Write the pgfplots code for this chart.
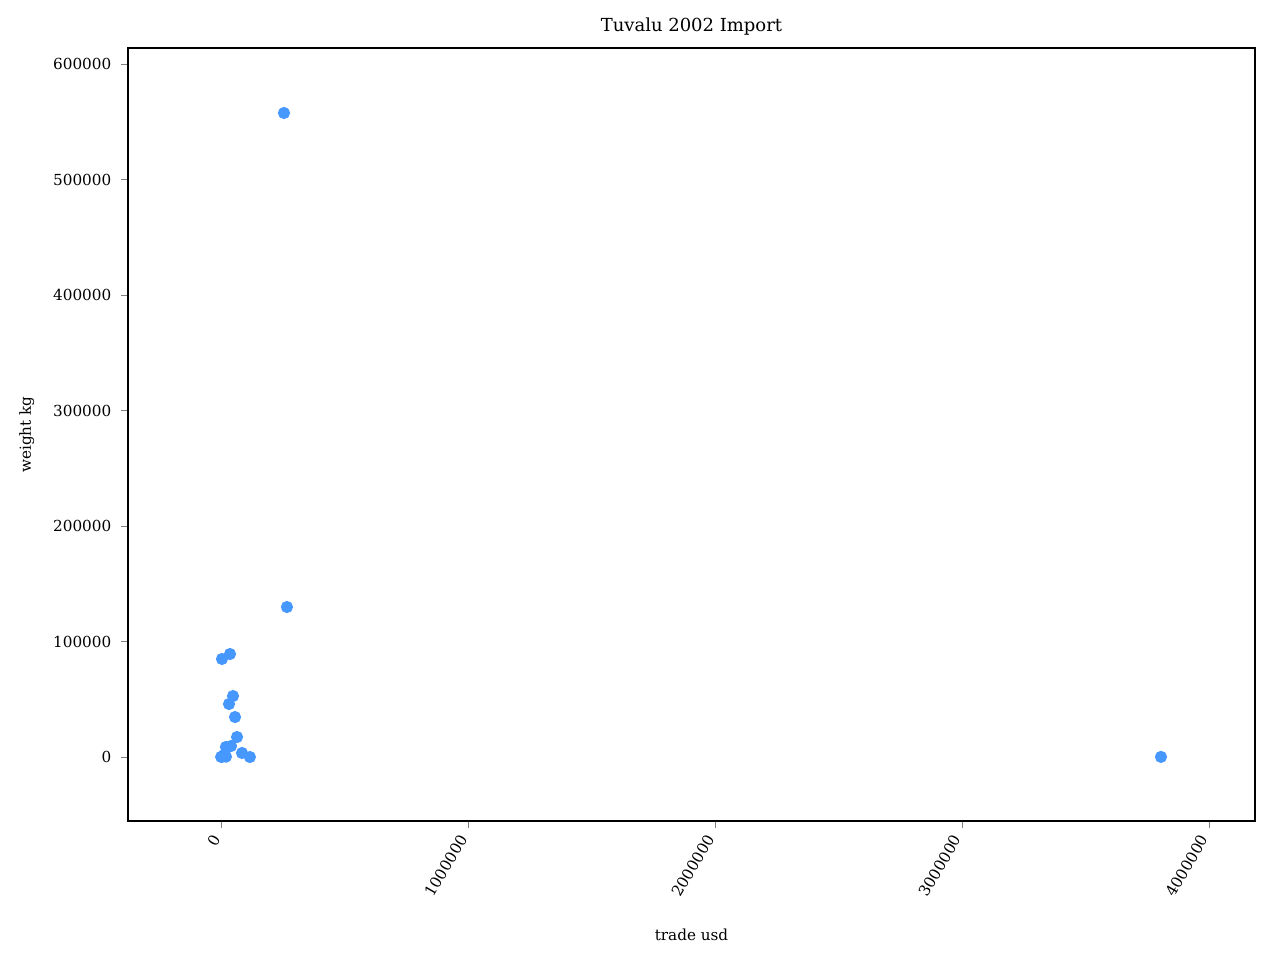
\documentclass[border=0pt]{standalone}
\usepackage{pgfplots}
\pgfplotsset{compat=1.18}
\usepackage{fontspec}
\setmainfont{DejaVu Serif}
\definecolor{pt}{RGB}{70,152,255}
\begin{document}
\begin{tikzpicture}
\path[use as bounding box] (0,0) rectangle (6.4in,4.8in);
\begin{axis}[at={(0.64in,0.695in)},anchor=south west,scale only axis,
width=5.635in,height=3.865in,
xmin=-376600,xmax=4186700,ymin=-55400,ymax=614000,
xtick={0,1000000,2000000,3000000,4000000},
ytick={0,100000,200000,300000,400000,500000,600000},
scaled ticks=false,
/pgf/number format/.cd,fixed,use comma=false,1000 sep={},assume math mode=true,/pgfplots/.cd,
tick label style={font=\fontsize{5.5}{6}\selectfont},
xticklabel style={rotate=60,anchor=east},
label style={font=\fontsize{5.5}{6}\selectfont},
xlabel={trade usd},ylabel={weight kg},
xlabel style={yshift=-3pt},
title={Tuvalu 2002 Import},title style={font=\fontsize{6.5}{7}\selectfont,yshift=-5pt},
tick align=outside,tick pos=left,major tick length=2.5pt,
]
\addplot[only marks,mark=*,mark size=2pt,color=pt] coordinates {
(4000,84900)(36400,89200)(48600,52800)(32400,45900)(56700,34600)(64800,17300)
(85000,3500)(117000,0)(40500,9500)(20000,8700)(12000,1700)(20000,300)
(4000,200)(500,100)(3806000,100)(255000,557700)(267000,129900)};
\end{axis}
\end{tikzpicture}
\end{document}
